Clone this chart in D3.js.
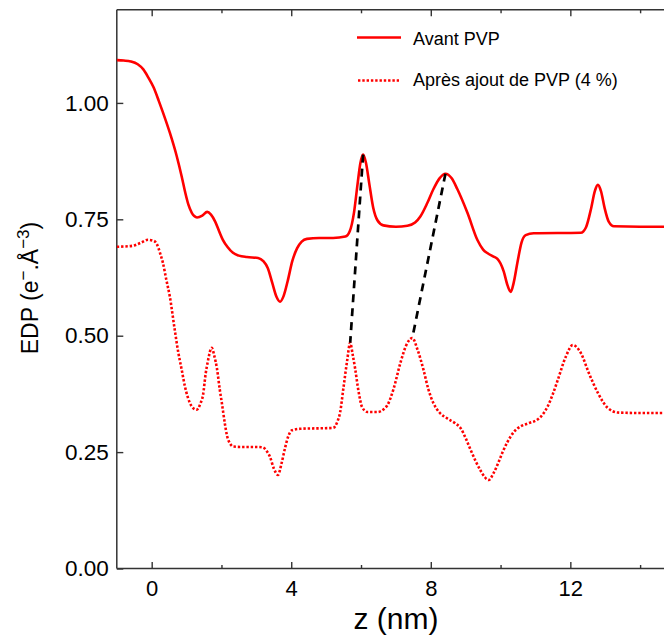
<!DOCTYPE html>
<html>
<head>
<meta charset="utf-8">
<script src="https://cdn.jsdelivr.net/npm/d3@7"></script>
<style>
  html, body { margin: 0; padding: 0; background: #fff; }
  svg { display: block; font-family: "Liberation Sans", Arial, Helvetica, sans-serif; }
</style>
</head>
<body>
<svg id="chart" width="664" height="636"></svg>
<script>
// ---- data ----
const zAvant = [-1.0,-0.8,-0.6,-0.4,-0.24,-0.1,0.05,0.2,0.33,0.52,0.72,0.86,0.96,1.05,1.15,1.22,1.30,1.45,1.59,1.70,1.82,1.93,2.04,2.18,2.33,2.5,2.73,3.05,3.2,3.33,3.45,3.58,3.68,3.78,3.90,4.03,4.17,4.30,4.45,4.8,5.2,5.55,5.68,5.80,5.90,5.98,6.06,6.14,6.24,6.35,6.47,6.64,7.0,7.33,7.55,7.70,7.9,8.07,8.25,8.42,8.60,8.76,9.05,9.34,9.50,9.63,9.80,9.91,10.00,10.09,10.20,10.29,10.38,10.49,10.60,10.72,10.95,12.30,12.45,12.60,12.70,12.79,12.88,12.98,13.10,13.25,14.0,15.0];
const edpAvant = [1.092,1.091,1.089,1.083,1.072,1.055,1.034,1.005,0.978,0.936,0.885,0.842,0.808,0.782,0.764,0.757,0.754,0.758,0.766,0.760,0.745,0.725,0.706,0.690,0.678,0.672,0.669,0.667,0.660,0.645,0.615,0.583,0.573,0.585,0.618,0.660,0.688,0.702,0.708,0.710,0.710,0.713,0.725,0.765,0.825,0.870,0.889,0.872,0.825,0.775,0.748,0.737,0.734,0.736,0.743,0.756,0.785,0.814,0.838,0.848,0.838,0.815,0.764,0.705,0.685,0.677,0.670,0.665,0.655,0.638,0.608,0.594,0.615,0.660,0.700,0.716,0.720,0.721,0.733,0.775,0.810,0.824,0.810,0.775,0.745,0.735,0.734,0.734];

const zApres = [-1.0,-0.55,-0.3,-0.11,0.05,0.14,0.25,0.32,0.42,0.52,0.66,0.76,0.86,0.95,1.03,1.15,1.29,1.40,1.47,1.55,1.61,1.72,1.80,1.87,1.95,2.01,2.10,2.16,2.25,2.33,2.6,3.0,3.19,3.30,3.39,3.50,3.62,3.72,3.82,3.92,4.02,4.25,5.20,5.32,5.40,5.50,5.60,5.69,5.76,5.83,5.93,6.03,6.18,6.47,6.65,6.75,6.93,7.13,7.30,7.47,7.62,7.79,7.93,8.07,8.25,8.48,8.70,8.85,9.00,9.14,9.29,9.43,9.55,9.66,9.80,9.94,10.07,10.20,10.4,10.57,10.8,11.06,11.2,11.35,11.50,11.64,11.87,12.07,12.30,12.53,12.79,13.07,13.36,14.0,15.0];
const edpApres = [0.691,0.693,0.700,0.706,0.704,0.698,0.675,0.657,0.620,0.584,0.513,0.465,0.427,0.392,0.369,0.348,0.341,0.355,0.372,0.420,0.445,0.474,0.455,0.430,0.385,0.356,0.310,0.285,0.268,0.262,0.261,0.261,0.260,0.252,0.240,0.215,0.201,0.225,0.258,0.285,0.297,0.300,0.302,0.315,0.335,0.390,0.445,0.485,0.460,0.430,0.380,0.347,0.336,0.336,0.342,0.350,0.385,0.442,0.480,0.495,0.470,0.427,0.385,0.356,0.335,0.322,0.312,0.302,0.280,0.255,0.230,0.210,0.196,0.190,0.205,0.228,0.252,0.272,0.295,0.305,0.312,0.320,0.330,0.348,0.375,0.405,0.455,0.480,0.463,0.420,0.377,0.345,0.335,0.334,0.334];

// dashed links between corresponding peaks
const linkTopZ = [6.06, 8.42];
const linkTopEdp = [0.889, 0.848];
const linkBotZ = [5.69, 7.47];
const linkBotEdp = [0.485, 0.495];

const xMajorTicks = [0, 4, 8, 12];
const xMinorTicks = [2, 6, 10, 14];
const yTicks = [0, 0.25, 0.5, 0.75, 1.0];
const seriesNames = ["Avant PVP", "Après ajout de PVP (4 %)"];

// ---- layout ----
const svg = d3.select("#chart");
const pLeft = 116.8, pRight = 675, pTop = 9.8, pBottom = 568.5;
const x = d3.scaleLinear().domain([-1, 15]).range([pLeft, pRight]);
const y = d3.scaleLinear().domain([0, 1.2]).range([pBottom, pTop]);
const axisColor = "#333";
const red = "#ff0000";
const FONT = "Liberation Sans, Arial, sans-serif";

svg.append("defs").append("clipPath").attr("id", "clip")
  .append("rect").attr("x", pLeft).attr("y", pTop).attr("width", pRight - pLeft).attr("height", pBottom - pTop);

const fmtY = d3.format(".2f");
// bottom
const gB = svg.append("g").attr("transform", `translate(0,${pBottom})`)
  .call(d3.axisBottom(x).tickValues(xMajorTicks).tickSize(-6.5).tickFormat(d3.format("d")).tickPadding(12));
gB.selectAll("text").attr("font-size", 22).attr("fill", "#000").attr("font-family", FONT);
svg.append("g").attr("transform", `translate(0,${pBottom})`)
  .call(d3.axisBottom(x).tickValues(xMinorTicks).tickSize(-3.5).tickFormat(""));
// top
svg.append("g").attr("transform", `translate(0,${pTop})`)
  .call(d3.axisTop(x).tickValues(xMajorTicks).tickSize(-6.5).tickFormat(""));
svg.append("g").attr("transform", `translate(0,${pTop})`)
  .call(d3.axisTop(x).tickValues(xMinorTicks).tickSize(-3.5).tickFormat(""));
// left
const gL = svg.append("g").attr("transform", `translate(${pLeft},0)`)
  .call(d3.axisLeft(y).tickValues(yTicks).tickSize(-6.5).tickFormat(fmtY).tickPadding(8));
gL.selectAll("text").attr("font-size", 22.5).attr("fill", "#000").attr("font-family", FONT);

svg.selectAll(".tick line").attr("stroke", axisColor).attr("stroke-width", 1.4);
svg.selectAll(".domain").remove();
svg.append("line").attr("x1", pLeft).attr("x2", 664).attr("y1", pBottom).attr("y2", pBottom).attr("stroke", axisColor).attr("stroke-width", 1.5);
svg.append("line").attr("x1", pLeft).attr("x2", 664).attr("y1", pTop).attr("y2", pTop).attr("stroke", axisColor).attr("stroke-width", 1.5);
svg.append("line").attr("x1", pLeft).attr("x2", pLeft).attr("y1", pTop).attr("y2", pBottom).attr("stroke", axisColor).attr("stroke-width", 1.5);

// curves
const plot = svg.append("g").attr("clip-path", "url(#clip)");
const line = d3.line().x(d => x(d[0])).y(d => y(d[1])).curve(d3.curveMonotoneX);
const avant = zAvant.map((z, i) => [z, edpAvant[i]]);
const apres = zApres.map((z, i) => [z, edpApres[i]]);

plot.append("path").datum(avant).attr("d", line)
  .attr("fill", "none").attr("stroke", red).attr("stroke-width", 2.6).attr("stroke-linejoin", "round");
plot.append("path").datum(apres).attr("d", line)
  .attr("fill", "none").attr("stroke", red).attr("stroke-width", 2.6).attr("stroke-dasharray", "2.4,1.9");

// dashed links
linkTopZ.forEach((z, i) => {
  plot.append("line")
    .attr("x1", x(z)).attr("y1", y(linkTopEdp[i]))
    .attr("x2", x(linkBotZ[i])).attr("y2", y(linkBotEdp[i]))
    .attr("stroke", "#000").attr("stroke-width", 2.7).attr("stroke-dasharray", "8,6");
});

// legend
const lg = svg.append("g");
lg.append("line").attr("x1", 357).attr("x2", 401).attr("y1", 37.5).attr("y2", 37.5)
  .attr("stroke", red).attr("stroke-width", 2.6);
lg.append("text").attr("x", 413).attr("y", 45).attr("font-size", 18).attr("fill", "#000").text(seriesNames[0]);
lg.append("line").attr("x1", 358).attr("x2", 399).attr("y1", 80.5).attr("y2", 80.5)
  .attr("stroke", red).attr("stroke-width", 2.6).attr("stroke-dasharray", "2.4,1.9");
lg.append("text").attr("x", 413).attr("y", 85.5).attr("font-size", 18).attr("fill", "#000").text(seriesNames[1]);

// axis titles
svg.append("text").attr("x", 396).attr("y", 629).attr("text-anchor", "middle")
  .attr("font-size", 30).attr("fill", "#000").text("z (nm)");

const yl = svg.append("text").attr("transform", "translate(37.5,288) rotate(-90)")
  .attr("text-anchor", "middle").attr("font-size", 23).attr("fill", "#000");
yl.append("tspan").text("EDP (e");
yl.append("tspan").attr("dy", -9).attr("font-size", 17).text("−");
yl.append("tspan").attr("dy", 9).text(".Å");
yl.append("tspan").attr("dy", -9).attr("font-size", 17).text("−3");
yl.append("tspan").attr("dy", 9).text(")");
</script>
</body>
</html>
